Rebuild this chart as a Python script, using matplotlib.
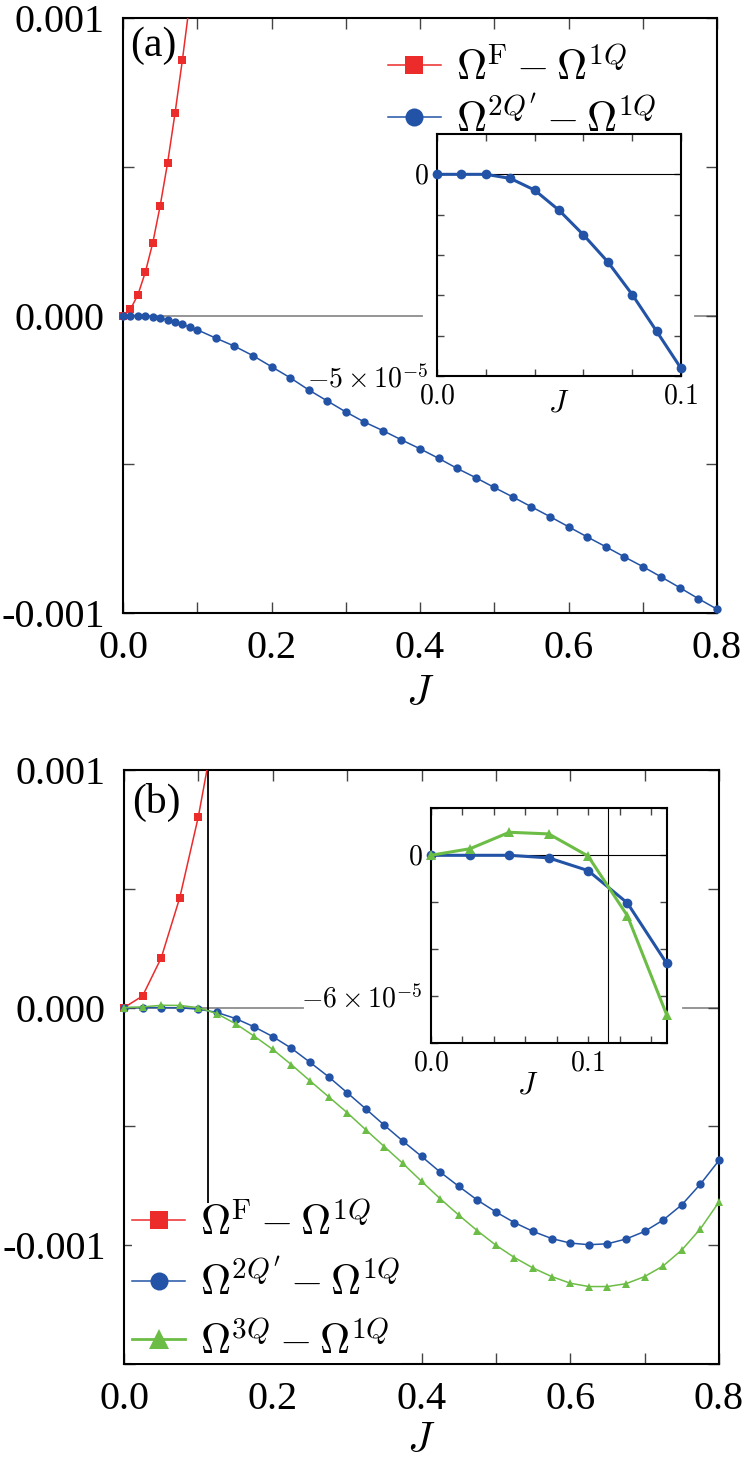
import matplotlib
matplotlib.use('Agg')
import matplotlib.pyplot as plt

plt.rcParams['font.family'] = ['Liberation Serif', 'DejaVu Serif']
plt.rcParams['mathtext.fontset'] = 'cm'

# ---- data (panel a) ----
J_a = [0.0, 0.01, 0.02, 0.03, 0.04, 0.05, 0.06, 0.07, 0.08, 0.09, 0.10,
       0.125, 0.15, 0.175, 0.2, 0.225, 0.25, 0.275, 0.3, 0.325, 0.35, 0.375,
       0.4, 0.425, 0.45, 0.475, 0.5, 0.525, 0.55, 0.575, 0.6, 0.625, 0.65,
       0.675, 0.7, 0.725, 0.75, 0.775, 0.8]
blue_a = [0.0, 0.0, 0.0, -0.1, -0.39, -0.89, -1.50, -2.17, -2.98, -3.89, -4.81,
          -7.6, -10.3, -13.5, -17.2, -20.9, -25.0, -28.7, -32.4, -35.8, -38.7,
          -41.8, -44.8, -48.0, -51.4, -54.5, -57.8, -61.0, -64.3, -67.6, -71.0,
          -74.4, -77.7, -81.1, -84.4, -87.9, -91.5, -95.2, -98.7]
J_red_a = [0.0, 0.01, 0.02, 0.03, 0.04, 0.05, 0.06, 0.07, 0.08, 0.09, 0.10]
red_a = [0.0, 2.1, 6.9, 14.5, 24.3, 36.8, 51.2, 67.9, 85.9, 105.5, 127.0]

# ---- data (panel b) ----
J_b = [0.0, 0.025, 0.05, 0.075, 0.1, 0.125, 0.15, 0.175, 0.2, 0.225, 0.25,
       0.275, 0.3, 0.325, 0.35, 0.375, 0.4, 0.425, 0.45, 0.475, 0.5, 0.525,
       0.55, 0.575, 0.6, 0.625, 0.65, 0.675, 0.7, 0.725, 0.75, 0.775, 0.8]
blue_b = [0.0, 0.0, 0.0, -0.11, -0.65, -2.03, -4.6, -8.1, -12.2, -17.1, -23.0,
          -29.1, -35.8, -42.6, -49.5, -56.2, -62.6, -69.2, -75.2, -81.0, -86.0,
          -90.5, -94.2, -97.2, -99.1, -99.8, -99.4, -97.4, -94.2, -89.4, -83.0,
          -74.3, -64.3]
green_b = [0.0, 0.28, 0.98, 0.91, -0.03, -2.57, -6.79, -12.0, -17.6, -24.0,
           -30.8, -37.5, -44.2, -51.4, -58.5, -65.6, -73.1, -80.4, -87.3, -93.9,
           -100.0, -105.2, -109.6, -113.2, -116.0, -117.4, -117.4, -116.2,
           -113.2, -108.7, -102.0, -93.1, -81.8]
J_red_b = [0.0, 0.025, 0.05, 0.075, 0.1, 0.125]
red_b = [0.0, 4.9, 20.9, 46.3, 80.4, 123.0]

J_cross = 0.113   # vertical marker line in (b)
scale = 1e-5      # values above are in units of 1e-5

lab_F = r'$\Omega^{\mathrm{F}}-\Omega^{1Q}$'
lab_2Q = r"$\Omega^{2Q'}-\Omega^{1Q}$"
lab_3Q = r'$\Omega^{3Q}-\Omega^{1Q}$'

red = '#ec2b2b'
blue = '#2353a6'
green = '#6cbd45'


def sc(vals):
    return [v * scale for v in vals]


def style_main(ax, ylim, ymajor, ylabels, yminor):
    ax.set_xlim(0, 0.8)
    ax.set_ylim(*ylim)
    ax.set_xticks([0.0, 0.2, 0.4, 0.6, 0.8])
    ax.set_xticklabels(['0.0', '0.2', '0.4', '0.6', '0.8'])
    ax.set_xticks([0.1, 0.3, 0.5, 0.7], minor=True)
    ax.set_yticks(ymajor)
    ax.set_yticklabels(ylabels)
    ax.set_yticks(yminor, minor=True)
    ax.tick_params(which='both', direction='in', top=True, right=True,
                   length=8, width=1, color='#444444', labelsize=29)
    ax.tick_params(axis='x', pad=12)
    ax.tick_params(axis='y', pad=13)
    for s in ax.spines.values():
        s.set_linewidth(1.5)
    ax.set_xlabel('$J$', fontsize=30)
    ax.xaxis.set_label_coords(0.5, -0.105)


def style_inset(ax, xlim, xminor, ylim, ylabels_pos, ylabels, yminor):
    ax.set_xlim(*xlim)
    ax.set_ylim(*ylim)
    ax.set_xticks([0.0, 0.1])
    ax.set_xticklabels(['$0.0$', '$0.1$'])
    ax.set_xticks(xminor, minor=True)
    ax.set_yticks(ylabels_pos)
    ax.set_yticklabels(ylabels)
    ax.set_yticks(yminor, minor=True)
    ax.tick_params(which='both', direction='in', top=True, right=True,
                   length=5, width=1, color='#444444', labelsize=20, pad=6)
    for s in ax.spines.values():
        s.set_linewidth(1.5)


W, H = 747, 1460
fig = plt.figure(figsize=(W / 100, H / 100), dpi=100)

# ================= panel (a) =================
ax = fig.add_axes([123 / W, 1 - 613 / H, 594 / W, 595 / H])
ax.axhline(0, xmax=0.503, color='#8c8c8c', lw=1.3, zorder=1)
ax.axhline(0, xmin=0.963, color='#8c8c8c', lw=1.3, zorder=1)
ax.plot(J_red_a, sc(red_a), color=red, lw=1.1, zorder=3)
vis = [(j, v) for j, v in zip(J_red_a, red_a) if v * scale <= 0.001]
ax.plot([p[0] for p in vis], sc([p[1] for p in vis]), ls='none', marker='s',
        ms=5.2, color=red, mew=0, clip_on=False, zorder=4)
ax.plot(J_a, sc(blue_a), color=blue, lw=1.1, marker='o', ms=6, mew=0,
        clip_on=False, zorder=4)
ax.plot([], [], color=red, lw=1.1, marker='s', ms=13, mew=0, label=lab_F)
ax.plot([], [], color=blue, lw=1.1, marker='o', ms=13, mew=0, label=lab_2Q)
style_main(ax, (-0.001, 0.001), [-0.001, 0.0, 0.001],
           ['-0.001', '0.000', '0.001'], [-0.0005, 0.0005])
ax.text(0.012, 0.985, '(a)', transform=ax.transAxes, fontsize=30,
        ha='left', va='top')
ax.legend(loc='upper left', bbox_to_anchor=(0.446, 0.95), fontsize=30,
          frameon=False, handlelength=1.27, handletextpad=0.36,
          borderpad=0, borderaxespad=0, labelspacing=0.22)

ins = fig.add_axes([437 / W, 1 - 376 / H, 244 / W, 242 / H])
ins.axhline(0, color='black', lw=0.8)
ins.plot(J_a[:11], sc(blue_a[:11]), color=blue, lw=2.2, marker='o', ms=7,
         mew=0, clip_on=False, zorder=4)
style_inset(ins, (0, 0.1), [0.02, 0.04, 0.06, 0.08], (-5e-5, 1e-5),
            [-5e-5, 0.0], [r'$-5\times10^{-5}$', '$0$'],
            [-4e-5, -3e-5, -2e-5, -1e-5])
ins.set_xlabel('$J$', fontsize=22)
ins.xaxis.set_label_coords(0.5, -0.055)

# ================= panel (b) =================
ax = fig.add_axes([124 / W, 1 - 1364 / H, 595 / W, 594 / H])
ax.axhline(0, xmax=0.30, color='#8c8c8c', lw=1.3, zorder=1)
ax.axhline(0, xmin=0.94, color='#8c8c8c', lw=1.3, zorder=1)
ax.axvline(J_cross, color='black', lw=1.3, zorder=2)
ax.plot(J_red_b, sc(red_b), color=red, lw=1.1, zorder=3)
vis = [(j, v) for j, v in zip(J_red_b, red_b) if v * scale <= 0.001]
ax.plot([p[0] for p in vis], sc([p[1] for p in vis]), ls='none', marker='s',
        ms=5.4, color=red, mew=0, clip_on=False, zorder=4)
ax.plot(J_b, sc(blue_b), color=blue, lw=1.1, marker='o', ms=6, mew=0,
        clip_on=False, zorder=4)
ax.plot(J_b, sc(green_b), color=green, lw=1.1, marker='^', ms=5.5, mew=0,
        clip_on=False, zorder=4)
ax.plot([], [], color=red, lw=1.1, marker='s', ms=13, mew=0, label=lab_F)
ax.plot([], [], color=blue, lw=1.1, marker='o', ms=13, mew=0, label=lab_2Q)
ax.plot([], [], color=green, lw=2, marker='^', ms=14, mew=0, label=lab_3Q)
style_main(ax, (-0.0015, 0.001), [-0.001, 0.0, 0.001],
           ['-0.001', '0.000', '0.001'], [-0.0015, -0.0005, 0.0005])
ax.xaxis.set_label_coords(0.5, -0.098)
ax.text(0.013, 0.978, '(b)', transform=ax.transAxes, fontsize=30,
        ha='left', va='top')
leg = ax.legend(loc='lower left', bbox_to_anchor=(0.014, 0.002), fontsize=30,
                frameon=True, facecolor='white', edgecolor='none',
                framealpha=1, fancybox=False, handlelength=1.27,
                handletextpad=0.36, borderpad=0.0, borderaxespad=0.0,
                labelspacing=0.42)
leg.set_zorder(10)

ins = fig.add_axes([430.7 / W, 1 - 1043.3 / H, 236 / W, 235 / H])
ins.axhline(0, color='black', lw=0.8)
ins.axvline(J_cross, color='black', lw=0.8)
ins.plot(J_b[:7], sc(blue_b[:7]), color=blue, lw=2.2, marker='o', ms=7,
         mew=0, clip_on=False, zorder=4)
ins.plot(J_b[:7], sc(green_b[:7]), color=green, lw=2.2, marker='^', ms=6.5,
         mew=0, clip_on=False, zorder=4)
style_inset(ins, (0, 0.15), [0.02, 0.04, 0.06, 0.08, 0.12, 0.14],
            (-8e-5, 2e-5), [-6e-5, 0.0], [r'$-6\times10^{-5}$', '$0$'],
            [-8e-5, -4e-5, -2e-5, 2e-5])
ins.set_xlabel('$J$', fontsize=22)
ins.xaxis.set_label_coords(0.412, -0.12)

fig.savefig('out.png', dpi=100)
